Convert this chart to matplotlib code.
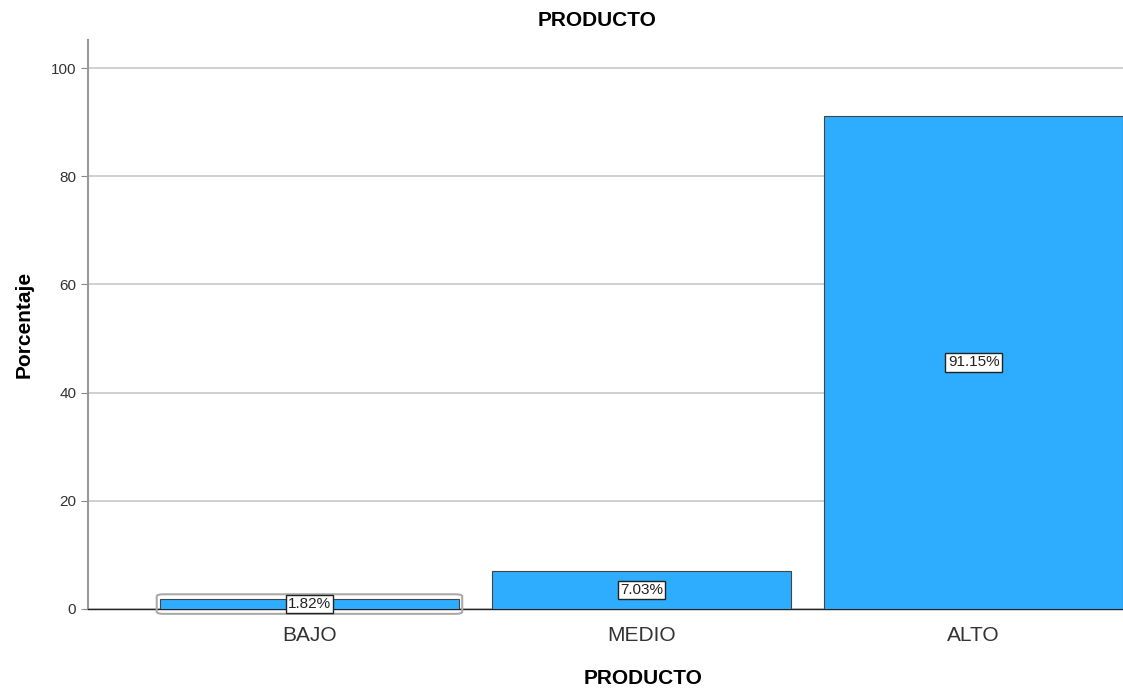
import matplotlib.pyplot as plt
from matplotlib.patches import FancyBboxPatch

categorias = ['BAJO', 'MEDIO', 'ALTO']
porcentajes = [1.82, 7.03, 91.15]
etiquetas = ['1.82%', '7.03%', '91.15%']
yticks = [0, 20, 40, 60, 80, 100]

plt.rcParams['font.family'] = ['Liberation Sans', 'DejaVu Sans']

fig = plt.figure(figsize=(11.23, 6.88), dpi=100)
ax = fig.add_axes([88/1123, 1 - 609/688, 1 - 88/1123, (609 - 40)/688])

x = list(range(len(categorias)))
ancho = 0.9
barras = ax.bar(x, porcentajes, width=ancho, color='#2eadff', edgecolor='#444444',
                linewidth=0.8, zorder=3)

for xi, v, t in zip(x, porcentajes, etiquetas):
    ax.text(xi, v / 2, t, ha='center', va='center', fontsize=11, color='#222222', zorder=5,
            bbox=dict(boxstyle='square,pad=0.15', facecolor='white', edgecolor='#222222', linewidth=1))

# marco de seleccion alrededor de BAJO
b = barras[0]
sel = FancyBboxPatch((b.get_x() - 0.01, -0.9), b.get_width() + 0.02, b.get_height() + 1.8,
                     boxstyle='round,pad=0,rounding_size=0.02', fill=False,
                     edgecolor='#aaaaaa', linewidth=1.5, zorder=4, mutation_aspect=20,
                     clip_on=False)
ax.add_patch(sel)

ax.set_xlim(-0.667, 2.45)
ax.set_ylim(0, 105.2)
ax.set_yticks(yticks)
ax.set_xticks(x)
ax.set_xticklabels(categorias, fontsize=15, color='#333333')
ax.tick_params(axis='y', labelsize=11, colors='#333333', length=5, color='#888888')
ax.tick_params(axis='x', length=0, pad=12)
ax.yaxis.grid(True, color='#c8c8c8', linewidth=1.2, zorder=0)
ax.set_axisbelow(True)

for s in ['top', 'right']:
    ax.spines[s].set_visible(False)
ax.spines['left'].set_color('#999999')
ax.spines['left'].set_linewidth(1.5)
ax.spines['bottom'].set_color('#222222')
ax.spines['bottom'].set_linewidth(1)

ax.set_ylabel('Porcentaje', fontsize=15, fontweight='bold', labelpad=12)
fig.text(643/1123, 1 - 679/688, 'PRODUCTO', ha='center', va='center',
         fontsize=15, fontweight='bold')
fig.text(597/1123, 1 - 20/688, 'PRODUCTO', ha='center', va='center',
         fontsize=15, fontweight='bold')

fig.savefig('out.png', dpi=100)
